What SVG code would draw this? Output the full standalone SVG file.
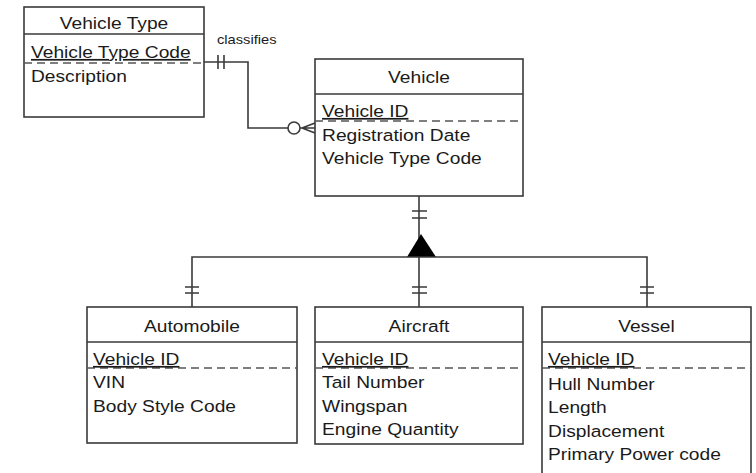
<svg xmlns="http://www.w3.org/2000/svg" width="756" height="473" viewBox="0 0 756 473">
<style>
.box{fill:#fff;stroke:#3a3a3a;stroke-width:1.6}
.ln{fill:none;stroke:#3a3a3a;stroke-width:1.6}
.dash{fill:none;stroke:#555;stroke-width:1.5;stroke-dasharray:8 5}
text{font-family:"Liberation Sans",Arial,sans-serif;font-size:17px;fill:#1a1a1a}
.t{text-anchor:middle}
.k{text-decoration:underline}
.sm{font-size:13px}
</style>
<rect width="756" height="473" fill="#fff"/>
<g id="connectors">
  <path class="ln" d="M204 62 H248 V128 H288"/>
  <path class="ln" d="M218 55 V69 M224 55 V69"/>
  <circle cx="294" cy="128" r="6" fill="#fff" stroke="#3a3a3a" stroke-width="1.6"/>
  <path class="ln" d="M300 128 H315 M302 128 L315 123 M302 128 L315 133"/>
  <path class="ln" d="M419 196 V307"/>
  <path class="ln" d="M412 211 H427 M412 218 H427"/>
  <polygon points="421,234 407,257 436,257" fill="#000"/>
  <path class="ln" d="M192 307 V257 H647 V307"/>
  <path class="ln" d="M185 287 H199 M185 293 H199 M412 287 H427 M412 293 H427 M640 287 H654 M640 293 H654"/>
  <g transform="scale(1.13,1)"><text class="sm" x="192" y="44">classifies</text></g>
</g>
<g id="vehicle-type">
  <rect class="box" x="24" y="7" width="180" height="110"/>
  <line class="ln" x1="24" y1="34" x2="204" y2="34"/>
  <line class="dash" x1="24" y1="63" x2="204" y2="63"/>
  <g transform="scale(1.13,1)">
    <text class="t" x="100.9" y="29">Vehicle Type</text>
    <text class="k" x="27.4" y="58">Vehicle Type Code</text>
    <text x="27.4" y="82">Description</text>
  </g>
</g>
<g id="vehicle">
  <rect class="box" x="315" y="59" width="208" height="137"/>
  <line class="ln" x1="315" y1="94" x2="523" y2="94"/>
  <line class="dash" x1="315" y1="121" x2="523" y2="121"/>
  <g transform="scale(1.13,1)">
    <text class="t" x="370.8" y="83">Vehicle</text>
    <text class="k" x="285" y="117">Vehicle ID</text>
    <text x="285" y="141">Registration Date</text>
    <text x="285" y="164">Vehicle Type Code</text>
  </g>
</g>
<g id="automobile">
  <rect class="box" x="87" y="307" width="210" height="136"/>
  <line class="ln" x1="87" y1="342" x2="297" y2="342"/>
  <line class="dash" x1="87" y1="368" x2="297" y2="368"/>
  <g transform="scale(1.13,1)">
    <text class="t" x="169.9" y="332">Automobile</text>
    <text class="k" x="82.3" y="365">Vehicle ID</text>
    <text x="82.3" y="388">VIN</text>
    <text x="82.3" y="412">Body Style Code</text>
  </g>
</g>
<g id="aircraft">
  <rect class="box" x="315" y="307" width="208" height="137"/>
  <line class="ln" x1="315" y1="342" x2="523" y2="342"/>
  <line class="dash" x1="315" y1="368" x2="523" y2="368"/>
  <g transform="scale(1.13,1)">
    <text class="t" x="370.8" y="332">Aircraft</text>
    <text class="k" x="285" y="365">Vehicle ID</text>
    <text x="285" y="388">Tail Number</text>
    <text x="285" y="412">Wingspan</text>
    <text x="285" y="435">Engine Quantity</text>
  </g>
</g>
<g id="vessel">
  <rect class="box" x="542" y="307" width="209" height="168"/>
  <line class="ln" x1="542" y1="342" x2="751" y2="342"/>
  <line class="dash" x1="542" y1="368" x2="751" y2="368"/>
  <g transform="scale(1.13,1)">
    <text class="t" x="572.1" y="332">Vessel</text>
    <text class="k" x="485" y="365">Vehicle ID</text>
    <text x="485" y="390">Hull Number</text>
    <text x="485" y="413">Length</text>
    <text x="485" y="437">Displacement</text>
    <text x="485" y="460">Primary Power code</text>
  </g>
</g>
</svg>
